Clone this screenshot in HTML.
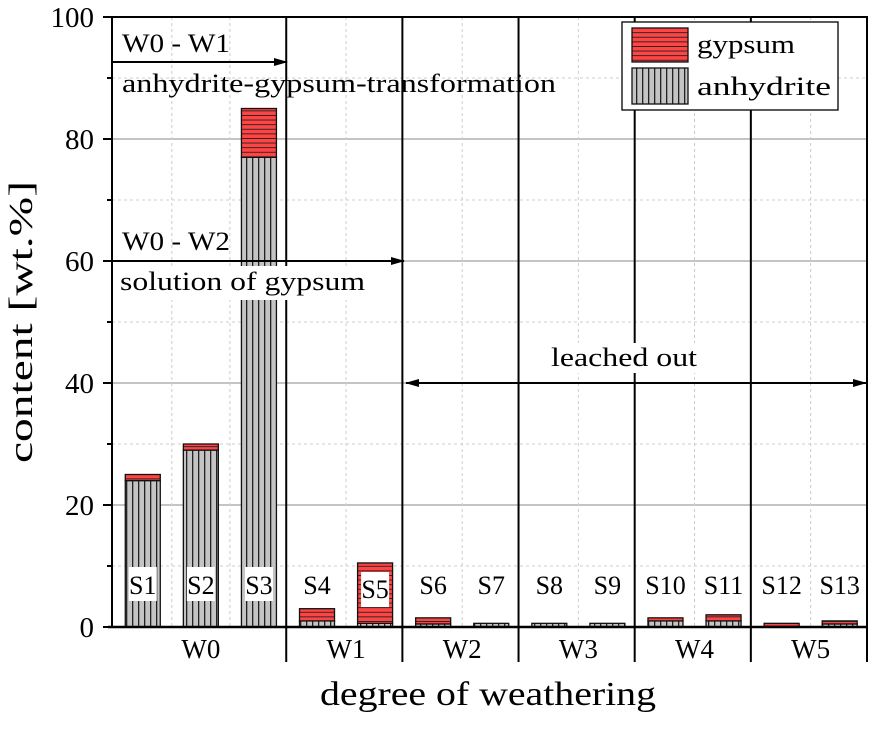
<!DOCTYPE html>
<html><head><meta charset="utf-8"><style>
body{margin:0;background:#fff}
svg text{font-family:"Liberation Serif",serif;fill:#000}
</style></head><body>
<svg id="chart" width="872" height="724" viewBox="0 0 872 724" xmlns="http://www.w3.org/2000/svg">
<defs>
<pattern id="pg" patternUnits="userSpaceOnUse" width="8" height="4.6"><rect width="8" height="4.6" fill="#f44"/><rect y="0" width="8" height="0.9" fill="#222"/></pattern>
<pattern id="pa" patternUnits="userSpaceOnUse" width="6" height="8"><rect width="6" height="8" fill="#c4c4c4"/><rect x="0" width="1.3" height="8" fill="#222"/></pattern>
<marker id="ah" markerWidth="14" markerHeight="10" refX="13" refY="5" orient="auto" markerUnits="userSpaceOnUse"><path d="M0,1 L14,5 L0,9 Z" fill="#000"/></marker>
<marker id="as" markerWidth="14" markerHeight="10" refX="1" refY="5" orient="auto" markerUnits="userSpaceOnUse"><path d="M14,1 L0,5 L14,9 Z" fill="#000"/></marker>
</defs>
<g id="grid"></g>
<g id="bars"></g>
<g id="overlay"></g>
</svg>
<script>
const samples=["S1","S2","S3","S4","S5","S6","S7","S8","S9","S10","S11","S12","S13"];
const anhydrite=[24,29,77,1,0.6,0.5,0.6,0.6,0.6,1,1,0,0.5];
const gypsum=[1,1,8,2,9.9,1,0,0,0,0.5,1,0.6,0.5];
const yTicks=[0,20,40,60,80,100];
const groups=["W0","W1","W2","W3","W4","W5"];
const groupStart=[0,3,5,7,9,11];
const groupEnd=[3,5,7,9,11,13];
const boxedLabels=["S1","S2","S3","S5"];

const NS="http://www.w3.org/2000/svg";
const X0=112,X1=867,Y0=627,Y1=17;
const step=(X1-X0)/13;
function y(v){return Y0-(v/100)*(Y0-Y1);}
function xc(i){return X0+(i+0.53)*step;}
function xb(i){return X0+i*step;}
function el(tag,attrs,parent,txt){const e=document.createElementNS(NS,tag);for(const k in attrs)e.setAttribute(k,attrs[k]);if(txt!==undefined)e.textContent=txt;parent.appendChild(e);return e;}
const grid=document.getElementById('grid'),bars=document.getElementById('bars'),ov=document.getElementById('overlay');

for(let v=10;v<100;v+=10){
  const g=el('line',{x1:X0,x2:X1,y1:y(v),y2:y(v),stroke:v%20===0?'#888':'#ccc','stroke-width':1,'stroke-dasharray':v%20===0?'':'3,3'},grid);
  
  
}
for(let i=1;i<13;i++){
  if(groupStart.includes(i))continue;
  const g=el('line',{x1:xb(i)+0.03*step,x2:xb(i)+0.03*step,y1:Y1,y2:Y0,stroke:'#ccc','stroke-dasharray':'3,3'},grid);
  
  
}
const bw=35;
samples.forEach((s,i)=>{
  const cx=xc(i);
  if(anhydrite[i]>0){
    const r=el('rect',{x:cx-bw/2,y:y(anhydrite[i]),width:bw,height:Y0-y(anhydrite[i]),fill:'url(#pa)',stroke:'#111','stroke-width':1.3},bars);
    
    
  }
  if(gypsum[i]>0){
    const top=anhydrite[i]+gypsum[i];
    const r=el('rect',{x:cx-bw/2,y:y(top),width:bw,height:y(anhydrite[i])-y(top),fill:'url(#pg)',stroke:'#111','stroke-width':1.3},bars);
    
    
  }
  const s5=s==='S5';
  if(boxedLabels.includes(s)){
    const b=el('rect',{x:cx-14,y:s5?572:567,width:28,height:s5?35:34,fill:'#fff'},ov);
    
    
  }
  const t=el('text',{x:cx,y:s5?598:594,'font-size':26,'text-anchor':'middle'},ov,s);
  
  
});
groupEnd.forEach((e,k)=>{
  const xx=xb(e);
  const l=el('line',{x1:xx,x2:xx,y1:Y1,y2:662,stroke:'#000','stroke-width':2},ov);
  
  
  const t=el('text',{x:(xc(groupStart[k])+xc(e-1))/2,y:658,'font-size':27,'text-anchor':'middle'},ov,groups[k]);
  
  
});
const annot=[
  ['W0 - W1',122,52,108,'annotation-w0-w1'],
  ['anhydrite-gypsum-transformation',122,92,434,'annotation-transformation'],
  ['W0 - W2',122,250,108,'annotation-w0-w2'],
  ['solution of gypsum',120,290,245,'annotation-solution'],
  ['leached out',551,366,146,'annotation-leached']
];
el('rect',{x:116,y:266,width:252,height:34,fill:'#fff'},ov);
el('rect',{x:545,y:343,width:158,height:30,fill:'#fff'},ov);
annot.forEach(a=>{const t=el('text',{x:a[1],y:a[2],'font-size':26,textLength:a[3],lengthAdjust:'spacingAndGlyphs'},ov,a[0]);
  
  });
let a1=el('line',{x1:X0,x2:287,y1:62,y2:62,stroke:'#000','stroke-width':2,'marker-end':'url(#ah)'},ov);

let a2=el('line',{x1:X0,x2:404,y1:y(60),y2:y(60),stroke:'#000','stroke-width':2,'marker-end':'url(#ah)'},ov);

let a3=el('line',{x1:406,x2:866,y1:y(40),y2:y(40),stroke:'#000','stroke-width':2,'marker-end':'url(#ah)','marker-start':'url(#as)'},ov);

let fr=el('rect',{x:X0,y:Y1,width:X1-X0,height:Y0-Y1,fill:'none',stroke:'#000','stroke-width':2},ov);

let xa=el('line',{x1:X0-4,x2:X1,y1:Y0,y2:Y0,stroke:'#000','stroke-width':2.5},ov);

for(let v=0;v<=100;v+=10){
  const tk=el('line',{x1:v%20===0?X0-9:X0-5,x2:X0,y1:y(v),y2:y(v),stroke:'#000','stroke-width':2},ov);
  
}
yTicks.forEach(v=>{const t=el('text',{x:94,y:y(v)+10,'font-size':29,'text-anchor':'end'},ov,String(v));
  });
let yt=el('text',{x:32,y:322,'font-size':34,'text-anchor':'middle',textLength:282,lengthAdjust:'spacingAndGlyphs',transform:'rotate(-90 32 322)'},ov,'content [wt.%]');

let xt=el('text',{x:488,y:705,'font-size':34,'text-anchor':'middle',textLength:336,lengthAdjust:'spacingAndGlyphs'},ov,'degree of weathering');

const lg=el('g',{},ov);

el('rect',{x:622,y:22,width:216,height:88,fill:'#fff',stroke:'#000','stroke-width':1.3},lg);
let l1=el('rect',{x:632,y:28,width:56,height:34,fill:'url(#pg)',stroke:'#111','stroke-width':1.3},lg);

let l2=el('rect',{x:632,y:68,width:56,height:36,fill:'url(#pa)',stroke:'#111','stroke-width':1.3},lg);

let lt1=el('text',{x:697,y:53,'font-size':26,textLength:98,lengthAdjust:'spacingAndGlyphs'},lg,'gypsum');

let lt2=el('text',{x:697,y:95,'font-size':26,textLength:134,lengthAdjust:'spacingAndGlyphs'},lg,'anhydrite');

</script>
</body></html>
